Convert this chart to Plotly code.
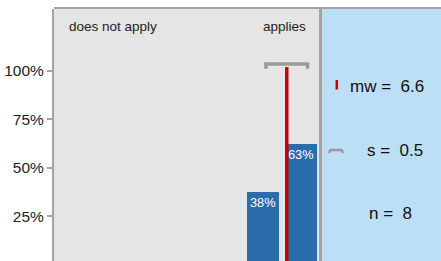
import plotly.graph_objects as go

# ---- data ----
categories = [6, 7]
shares = [37.5, 62.5]
bar_labels = ["38%", "63%"]
mean_value = 6.625
sd_value = 0.518
n_value = 8
mean_label = "6.6"
sd_label = "0.5"
tick_values = [25, 50, 75, 100]
tick_labels = ["25%", "50%", "75%", "100%"]
scale_labels = ["does not apply", "applies"]

# ---- layout constants ----
W, H = 441, 261
L, R, T, B = 54, 121, 9, 0
PW = W - L - R
PH = H - T - B
FONT = "Liberation Sans, Arial, sans-serif"
GRAY = "#a3a3a3"
RED = "#c40000"
BLUE_BAR = "#2b6dab"
PANEL = "#bcdff5"


def px(x):
    return (x - L) / PW


def py(y):
    return (H - B - y) / PH


fig = go.Figure()
fig.add_trace(go.Bar(
    x=categories, y=shares, width=0.86,
    marker=dict(color=BLUE_BAR, line=dict(width=0)),
    text=bar_labels, textposition="inside", insidetextanchor="end", textangle=0,
    textfont=dict(color="white", size=13, family=FONT),
    hoverinfo="skip",
))

shapes = []
# right panel
shapes.append(dict(type="rect", xref="paper", yref="paper",
                   x0=1, x1=px(W + 2), y0=0, y1=1,
                   fillcolor=PANEL, line=dict(width=0), layer="below"))
# separator line
shapes.append(dict(type="line", xref="paper", yref="paper",
                   x0=px(320.5), x1=px(320.5), y0=0, y1=1,
                   line=dict(color=GRAY, width=3)))
# top border
shapes.append(dict(type="line", xref="paper", yref="paper",
                   x0=0, x1=px(W + 2), y0=py(8), y1=py(8),
                   line=dict(color=GRAY, width=2)))
# mean line
shapes.append(dict(type="line", xref="x", yref="y",
                   x0=mean_value, x1=mean_value, y0=0, y1=102,
                   line=dict(color=RED, width=3.5)))
# sd bracket
x0 = mean_value - sd_value
x1 = mean_value + sd_value
shapes.append(dict(type="path", xref="x", yref="y",
                   path=f"M {x0 - 0.03} 101.2 L {x0 - 0.03} 103.6 L {x1 + 0.03} 103.6 L {x1 + 0.03} 101.2",
                   line=dict(color="#9a9a9a", width=3.5)))
# legend red tick
shapes.append(dict(type="line", xref="paper", yref="paper",
                   x0=px(336.8), x1=px(336.8), y0=py(80), y1=py(89.5),
                   line=dict(color=RED, width=2.5)))
# legend gray bracket
shapes.append(dict(type="path", xref="paper", yref="paper",
                   path=(f"M {px(329)} {py(153)} L {px(330.5)} {py(150)} "
                         f"L {px(341.5)} {py(150)} L {px(343)} {py(153)}"),
                   line=dict(color="#9a9a9a", width=2.5)))

annotations = [
    dict(text=scale_labels[0], xref="paper", yref="paper", x=px(67), y=py(27),
         xanchor="left", yanchor="middle", showarrow=False,
         font=dict(size=13.5, color="#222", family=FONT)),
    dict(text=scale_labels[1], xref="paper", yref="paper", x=px(308), y=py(27),
         xanchor="right", yanchor="middle", showarrow=False,
         font=dict(size=13.5, color="#222", family=FONT)),
    dict(text=f"mw =&nbsp;&nbsp;{mean_label}", xref="paper", yref="paper",
         x=px(348), y=py(86.5), xanchor="left", yanchor="middle", showarrow=False,
         font=dict(size=17, color="#111", family=FONT)),
    dict(text=f"s =&nbsp;&nbsp;{sd_label}", xref="paper", yref="paper",
         x=px(365), y=py(150), xanchor="left", yanchor="middle", showarrow=False,
         font=dict(size=17, color="#111", family=FONT)),
    dict(text=f"n =&nbsp;&nbsp;{n_value}", xref="paper", yref="paper",
         x=px(366.5), y=py(213), xanchor="left", yanchor="middle", showarrow=False,
         font=dict(size=17, color="#111", family=FONT)),
]

fig.update_layout(
    width=W, height=H,
    margin=dict(l=L, r=R, t=T, b=B, pad=0, autoexpand=False),
    paper_bgcolor="white", plot_bgcolor="#e5e5e5",
    showlegend=False, bargap=0,
    shapes=shapes, annotations=annotations,
    xaxis=dict(range=[0.5, 7.5], showticklabels=False, ticks="",
               showgrid=False, zeroline=False, showline=False, fixedrange=True,
               automargin=False),
    yaxis=dict(range=[1.9, 132.0], tickvals=tick_values, ticktext=tick_labels,
               ticks="outside", ticklen=5, tickwidth=2, tickcolor=GRAY,
               showgrid=False, zeroline=False, showline=True,
               linecolor=GRAY, linewidth=2, automargin=False,
               tickfont=dict(size=15.5, color="#222", family=FONT), fixedrange=True),
)

fig.write_html(
    "out.html",
    config={"displayModeBar": False},
    post_script="document.body.style.margin='0';document.body.style.padding='0';",
)
